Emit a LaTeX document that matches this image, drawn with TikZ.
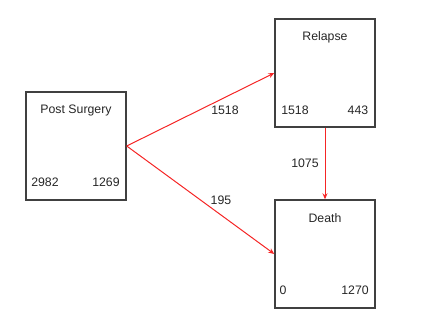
\documentclass[tikz,border=0pt]{standalone}
\usepackage{fontspec}
\setmainfont{Liberation Sans}
\usetikzlibrary{arrows.meta, positioning}
\definecolor{boxcolor}{HTML}{404040}
\definecolor{flowcolor}{HTML}{F52525}

\begin{document}
\begin{tikzpicture}[x=1pt, y=-1pt, font=\fontsize{12.3}{14}\selectfont,
    statebox/.style={rectangle, draw=boxcolor, line width=1.4pt, minimum width=100pt, minimum height=108pt, inner sep=0pt},
    flow/.style={draw=flowcolor, line width=1pt, -{Stealth[length=6pt, width=5pt]}},
    count/.style={text=black!85, inner sep=1pt}]
    \useasboundingbox (0,0) rectangle (423,324);

    % State boxes
    \node[statebox] (ps) at (76,146) {};
    \node[statebox] (rel) at (325,73) {};
    \node[statebox] (dth) at (325,254) {};

    % Box titles
    \node[count] (ps-title) at (76,110) {Post Surgery};
    \node[count] (rel-title) at (325,37) {Relapse};
    \node[count] (dth-title) at (325,218) {Death};

    % Counts in the boxes
    \node[count] (ps-in) at (45,182) {2982};
    \node[count] (ps-out) at (106,182) {1269};
    \node[count] (rel-in) at (295,110) {1518};
    \node[count] (rel-out) at (358,110) {443};
    \node[count] (dth-in) at (283,290) {0};
    \node[count] (dth-out) at (355,290) {1270};

    % Transitions
    \draw[flow] (ps.east) -- (rel.west);
    \draw[flow] (ps.east) -- (dth.west);
    \draw[flow] (rel.south) -- (dth.north);

    % Transition labels
    \node[count] (lab-rel) at (225,110) {1518};
    \node[count] (lab-dth) at (221,200) {195};
    \node[count] (lab-rd) at (305,163) {1075};
\end{tikzpicture}
\end{document}
